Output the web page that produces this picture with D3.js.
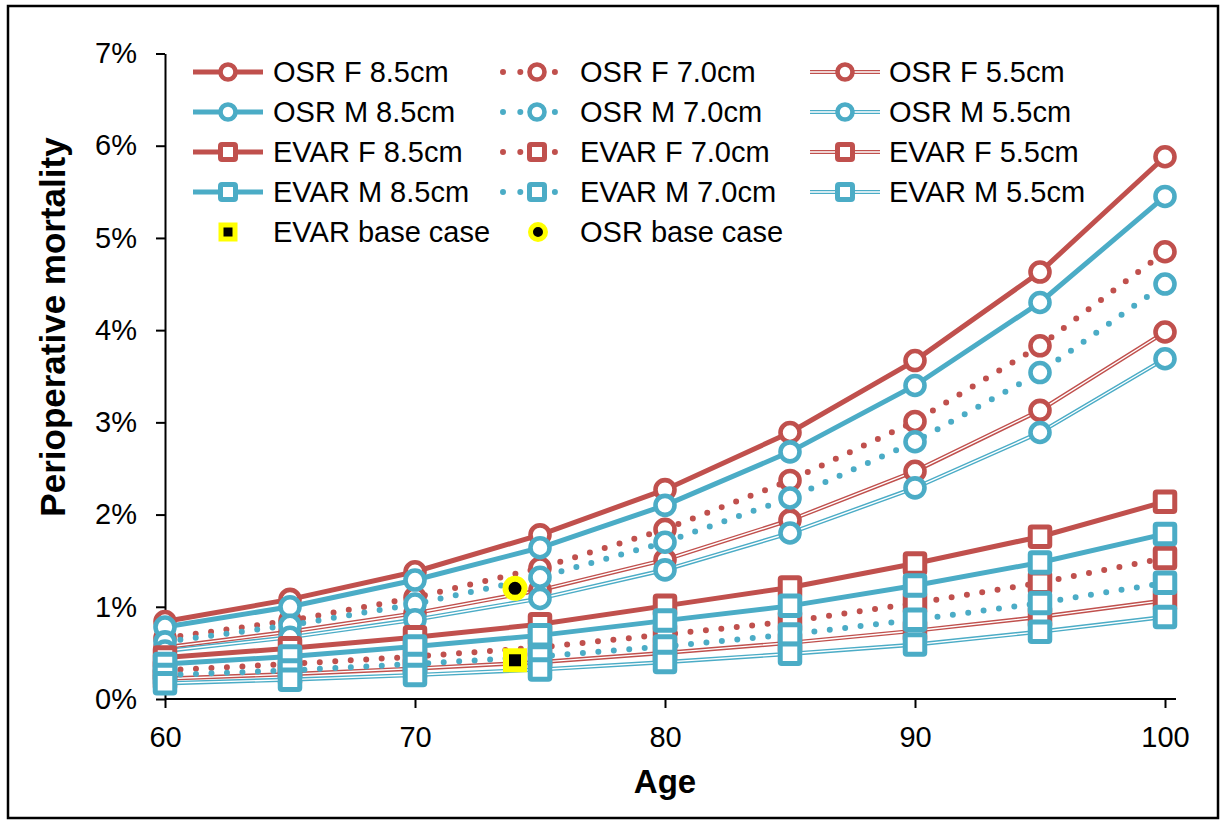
<!DOCTYPE html>
<html>
<head>
<meta charset="utf-8">
<script src="https://cdn.jsdelivr.net/npm/d3@7"></script>
<style>
html,body{margin:0;padding:0;background:#fff;}
svg{display:block;}
text{font-family:"Liberation Sans",Arial,sans-serif;fill:#000;}
</style>
</head>
<body>
<svg id="chart" width="1224" height="823"></svg>
<script>
// ---- data ----
const ages = [60, 65, 70, 75, 80, 85, 90, 95, 100];
const osrF85 = [0.84, 1.08, 1.38, 1.78, 2.27, 2.89, 3.67, 4.63, 5.88];
const osrM85 = [0.78, 1.00, 1.29, 1.64, 2.10, 2.68, 3.40, 4.30, 5.45];
const osrF70 = [0.66, 0.85, 1.10, 1.42, 1.84, 2.37, 3.01, 3.83, 4.85];
const osrM70 = [0.62, 0.80, 1.03, 1.32, 1.70, 2.18, 2.79, 3.54, 4.50];
const osrF55 = [0.56, 0.73, 0.93, 1.18, 1.51, 1.94, 2.47, 3.13, 3.98];
const osrM55 = [0.52, 0.67, 0.86, 1.09, 1.40, 1.80, 2.29, 2.89, 3.69];
const evarF85 = [0.45, 0.55, 0.67, 0.81, 1.01, 1.21, 1.47, 1.76, 2.14];
const evarM85 = [0.38, 0.46, 0.57, 0.69, 0.85, 1.01, 1.23, 1.48, 1.79];
const evarF70 = [0.31, 0.38, 0.46, 0.56, 0.70, 0.84, 1.04, 1.26, 1.53];
const evarM70 = [0.26, 0.31, 0.38, 0.46, 0.57, 0.70, 0.86, 1.04, 1.26];
const evarF55 = [0.22, 0.27, 0.33, 0.40, 0.50, 0.61, 0.74, 0.89, 1.07];
const evarM55 = [0.17, 0.21, 0.26, 0.32, 0.40, 0.49, 0.59, 0.73, 0.89];
const evarBase = {age: 74, value: 0.42};
const osrBase = {age: 74, value: 1.20};
const yTicks = [0, 1, 2, 3, 4, 5, 6, 7];
const xTicks = [60, 70, 80, 90, 100];

const RED = "#C0504D", BLUE = "#4BACC6";

// series in Excel drawing order (legend row-wise)
const series = [
  {name: "OSR F 8.5cm", vals: osrF85, color: RED, style: "solid", marker: "circle"},
  {name: "OSR F 7.0cm", vals: osrF70, color: RED, style: "dot", marker: "circle"},
  {name: "OSR F 5.5cm", vals: osrF55, color: RED, style: "double", marker: "circle"},
  {name: "OSR M 8.5cm", vals: osrM85, color: BLUE, style: "solid", marker: "circle"},
  {name: "OSR M 7.0cm", vals: osrM70, color: BLUE, style: "dot", marker: "circle"},
  {name: "OSR M 5.5cm", vals: osrM55, color: BLUE, style: "double", marker: "circle"},
  {name: "EVAR F 8.5cm", vals: evarF85, color: RED, style: "solid", marker: "square"},
  {name: "EVAR F 7.0cm", vals: evarF70, color: RED, style: "dot", marker: "square"},
  {name: "EVAR F 5.5cm", vals: evarF55, color: RED, style: "double", marker: "square"},
  {name: "EVAR M 8.5cm", vals: evarM85, color: BLUE, style: "solid", marker: "square"},
  {name: "EVAR M 7.0cm", vals: evarM70, color: BLUE, style: "dot", marker: "square"},
  {name: "EVAR M 5.5cm", vals: evarM55, color: BLUE, style: "double", marker: "square"}
];

const svg = d3.select("#chart");
svg.append("rect").attr("width", 1224).attr("height", 823).attr("fill", "#fff");
svg.append("rect").attr("x", 8).attr("y", 6).attr("width", 1210).attr("height", 812)
  .attr("fill", "none").attr("stroke", "#000").attr("stroke-width", 2.5);

const x = d3.scaleLinear().domain([60, 100]).range([165, 1165]);
const y = d3.scaleLinear().domain([0, 7]).range([699, 53.5]);

// axes
const gy = svg.append("g").attr("transform", "translate(165,0)")
  .call(d3.axisLeft(y).tickValues(yTicks).tickFormat(d => d + "%").tickSize(9).tickSizeOuter(0).tickPadding(19));
const gx = svg.append("g").attr("transform", "translate(0,699)")
  .call(d3.axisBottom(x).tickValues(xTicks).tickFormat(d3.format("d")).tickSize(9).tickSizeOuter(0).tickPadding(18));
gx.select(".domain").remove();
svg.append("line").attr("x1", x(60)).attr("x2", x(100) + 11).attr("y1", 699).attr("y2", 699)
  .attr("stroke", "#000").attr("stroke-width", 2);
[gx, gy].forEach(g => {
  g.selectAll(".domain").attr("stroke", "#000").attr("stroke-width", 2);
  g.selectAll(".tick line").attr("stroke", "#000").attr("stroke-width", 2);
  g.selectAll(".tick text").attr("font-size", 29).attr("font-family", '"Liberation Sans",Arial,sans-serif').attr("fill", "#000");
});

// axis titles
svg.append("text").attr("x", x(80)).attr("y", 793).attr("text-anchor", "middle")
  .attr("font-size", 33).attr("font-weight", "bold").text("Age");
svg.append("text").attr("transform", "translate(65," + 327 + ") rotate(-90)")
  .attr("text-anchor", "middle").attr("font-size", 35).attr("font-weight", "bold").text("Perioperative mortality");

function styleLine(sel, s) {
  if (s.style === "solid") {
    sel.attr("stroke", s.color).attr("stroke-width", 5);
  } else if (s.style === "dot") {
    sel.attr("stroke", s.color).attr("stroke-width", 6).attr("stroke-linecap", "round").attr("stroke-dasharray", "0,15.5");
  } else {
    sel.attr("stroke", s.color).attr("stroke-width", 4.2);
  }
}
function drawLine(g, s, pts) {
  const line = d3.line().x(d => d[0]).y(d => d[1]);
  styleLine(g.append("path").attr("d", line(pts)).attr("fill", "none"), s);
  if (s.style === "double") {
    g.append("path").attr("d", line(pts)).attr("fill", "none").attr("stroke", "#fff").attr("stroke-width", 1.4);
  }
}
function drawMarker(g, s, cx, cy, big) {
  if (s.marker === "circle") {
    const r = big ? 9.5 : 7.5;
    g.append("circle").attr("cx", cx).attr("cy", cy).attr("r", r)
      .attr("fill", "#fff").attr("stroke", s.color).attr("stroke-width", big ? 4.6 : 4.6);
  } else {
    const a = big ? 19.5 : 15;
    g.append("rect").attr("x", cx - a / 2).attr("y", cy - a / 2).attr("width", a).attr("height", a)
      .attr("rx", 1.5).attr("fill", "#fff").attr("stroke", s.color).attr("stroke-width", 5);
  }
}

// plot series
const plot = svg.append("g");
series.forEach(s => {
  const g = plot.append("g");
  const pts = ages.map((a, i) => [x(a), y(s.vals[i])]);
  drawLine(g, s, pts);
  pts.forEach(p => drawMarker(g, s, p[0], p[1], true));
});

// base cases
plot.append("rect").attr("x", x(evarBase.age) - 9).attr("y", y(evarBase.value) - 9).attr("width", 18).attr("height", 18)
  .attr("fill", "#000").attr("stroke", "#FFFF00").attr("stroke-width", 6);
plot.append("circle").attr("cx", x(osrBase.age)).attr("cy", y(osrBase.value)).attr("r", 9.5)
  .attr("fill", "#000").attr("stroke", "#FFFF00").attr("stroke-width", 6);

// legend
const legend = svg.append("g");
const colX = [193, 502, 810];
const colText = [273, 580, 889];
const rowY = [72, 112, 152, 192, 232];
const legendOrder = [
  ["OSR F 8.5cm", "OSR F 7.0cm", "OSR F 5.5cm"],
  ["OSR M 8.5cm", "OSR M 7.0cm", "OSR M 5.5cm"],
  ["EVAR F 8.5cm", "EVAR F 7.0cm", "EVAR F 5.5cm"],
  ["EVAR M 8.5cm", "EVAR M 7.0cm", "EVAR M 5.5cm"]
];
legendOrder.forEach((row, ri) => {
  row.forEach((nm, ci) => {
    const s = series.find(d => d.name === nm);
    const g = legend.append("g");
    const x0 = colX[ci], x1 = colX[ci] + 70, yy = rowY[ri];
    if (s.style === "dot") {
      drawLine(g, s, [[x0 + 1, yy], [x1, yy]]);
      g.select("path").attr("stroke-dasharray", "0,17.3");
    } else {
      drawLine(g, s, [[x0, yy], [x1, yy]]);
    }
    drawMarker(g, s, (x0 + x1) / 2, yy, false);
    g.append("text").attr("x", colText[ci]).attr("y", yy).attr("dy", "0.35em")
      .attr("font-size", 29).text(nm);
  });
});
legend.append("rect").attr("x", 228 - 7).attr("y", 232 - 7).attr("width", 14).attr("height", 14)
  .attr("fill", "#000").attr("stroke", "#FFFF00").attr("stroke-width", 5);
legend.append("text").attr("x", 273).attr("y", 232).attr("dy", "0.35em").attr("font-size", 29).text("EVAR base case");
legend.append("circle").attr("cx", 538).attr("cy", 232).attr("r", 7.5)
  .attr("fill", "#000").attr("stroke", "#FFFF00").attr("stroke-width", 5);
legend.append("text").attr("x", 580).attr("y", 232).attr("dy", "0.35em").attr("font-size", 29).text("OSR base case");
</script>
</body>
</html>
